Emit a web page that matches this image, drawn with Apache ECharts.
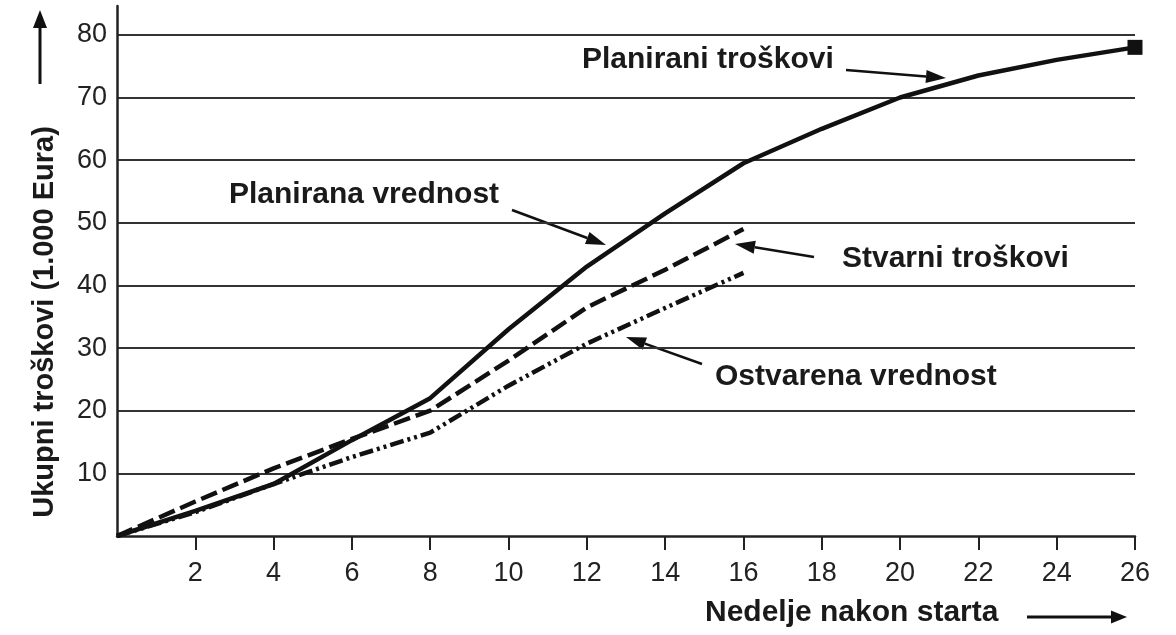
<!DOCTYPE html>
<html>
<head>
    <meta charset="utf-8">
    <title>Planirani i stvarni troškovi</title>
    <script src="https://cdn.jsdelivr.net/npm/echarts@6/dist/echarts.min.js"></script>
    <style>
        html, body { margin: 0; padding: 0; background: #fff; }
        #chart { width: 1176px; height: 635px; }
    </style>
</head>
<body>
<div id="chart"></div>
<script>
    // podaci (nedelje / 1.000 Eura)
    var weeks = [0, 2, 4, 6, 8, 10, 12, 14, 16, 18, 20, 22, 24, 26];
    var planned = [0, 4, 8.3, 15.3, 22, 33, 43, 51.5, 59.5, 65, 70, 73.5, 76, 78];
    var actualWeeks = [0, 2, 4, 6, 8, 10, 12, 14, 16];
    var actual = [0, 5.5, 10.8, 15.5, 20, 28, 36.5, 42.5, 49];
    var earned = [0, 3.8, 8.3, 12.6, 16.5, 24, 30.7, 36.4, 42];

    var yTicks = [10, 20, 30, 40, 50, 60, 70, 80];

    var font = '"Liberation Sans", Arial, sans-serif';
    var ink = '#111';

    function pairs(xs, ys) {
        return xs.map(function (x, i) { return [x, ys[i]]; });
    }

    // strelica: linija + trougao na vrhu
    function arrow(x1, y1, x2, y2, w, headLen, headW) {
        var a = Math.atan2(y2 - y1, x2 - x1);
        var bx = x2 - headLen * Math.cos(a), by = y2 - headLen * Math.sin(a);
        var px = -Math.sin(a) * headW / 2, py = Math.cos(a) * headW / 2;
        return [
            { type: 'line', silent: true,
              shape: { x1: x1, y1: y1, x2: bx, y2: by },
              style: { stroke: ink, lineWidth: w } },
            { type: 'polygon', silent: true,
              shape: { points: [[x2, y2], [bx + px, by + py], [bx - px, by - py]] },
              style: { fill: ink } }
        ];
    }

    function label(text, x, y, size) {
        return { type: 'text', silent: true, x: x, y: y,
            style: { text: text, fill: '#1a1a1a', font: 'bold ' + size + 'px ' + font,
                     textAlign: 'left', textVerticalAlign: 'middle' } };
    }

    var chart = echarts.init(document.getElementById('chart'));

    var graphics = [
        // naziv y ose
        { type: 'text', silent: true, x: 45, y: 322, rotation: Math.PI / 2,
          style: { text: 'Ukupni troškovi (1.000 Eura)', fill: '#1a1a1a',
                   font: 'bold 29px ' + font, textAlign: 'center', textVerticalAlign: 'middle' } },
        // naziv x ose
        label('Nedelje nakon starta', 705, 613, 30),
        label('Planirani troškovi', 582, 60, 30),
        label('Planirana vrednost', 229, 195, 30),
        label('Stvarni troškovi', 842, 259, 30),
        label('Ostvarena vrednost', 715, 377, 30)
    ];
    graphics = graphics
        .concat(arrow(40, 84, 40, 10, 3, 18, 14))
        .concat(arrow(1027, 617, 1127, 617, 3, 16, 13))
        .concat(arrow(846, 70, 946, 78, 2.5, 20, 13))
        .concat(arrow(512, 210, 606, 245, 2.5, 20, 13))
        .concat(arrow(814, 257, 735, 244, 2.5, 20, 13))
        .concat(arrow(702, 364, 626, 337, 2.5, 20, 13));

    var lastIdx = weeks.length - 1;

    chart.setOption({
        animation: false,
        backgroundColor: '#fff',
        grid: { left: 117, right: 41, top: 6, bottom: 99, containLabel: false },
        xAxis: {
            type: 'value', min: 0, max: 26, interval: 2,
            axisLine: { show: true, lineStyle: { color: '#222', width: 2.5 } },
            axisTick: { show: true, length: 14, lineStyle: { color: '#222', width: 2 } },
            axisLabel: { showMinLabel: false, margin: 24, fontSize: 27, fontFamily: font, color: '#222' },
            splitLine: { show: false }
        },
        yAxis: {
            type: 'value', min: 0, max: 84.6, interval: 10,
            axisLine: { show: true, lineStyle: { color: '#222', width: 2.5 } },
            axisTick: { show: false },
            axisLabel: {
                showMinLabel: false, showMaxLabel: false, margin: 10,
                fontSize: 27, fontFamily: font, color: '#222',
                formatter: function (v) { return yTicks.indexOf(v) >= 0 ? String(v) : ''; }
            },
            splitLine: { show: true, showMinLine: false, showMaxLine: false,
                         lineStyle: { color: '#333', width: 2 } }
        },
        series: [
            {
                name: 'Planirani troškovi', type: 'line',
                data: pairs(weeks, planned),
                showSymbol: true, showAllSymbol: true,
                symbol: function (v, p) { return p.dataIndex === lastIdx ? 'rect' : 'none'; },
                symbolSize: 15,
                itemStyle: { color: ink },
                lineStyle: { color: ink, width: 4.5 },
                z: 5
            },
            {
                name: 'Stvarni troškovi', type: 'line',
                data: pairs(actualWeeks, actual),
                symbol: 'none',
                lineStyle: { color: ink, width: 4.5, type: [17, 6] },
                z: 4
            },
            {
                name: 'Ostvarena vrednost', type: 'line',
                data: pairs(actualWeeks, earned),
                symbol: 'none',
                lineStyle: { color: ink, width: 4.5, type: [14, 4, 3, 4, 3, 4] },
                z: 3
            }
        ],
        graphic: graphics
    });
</script>
</body>
</html>
